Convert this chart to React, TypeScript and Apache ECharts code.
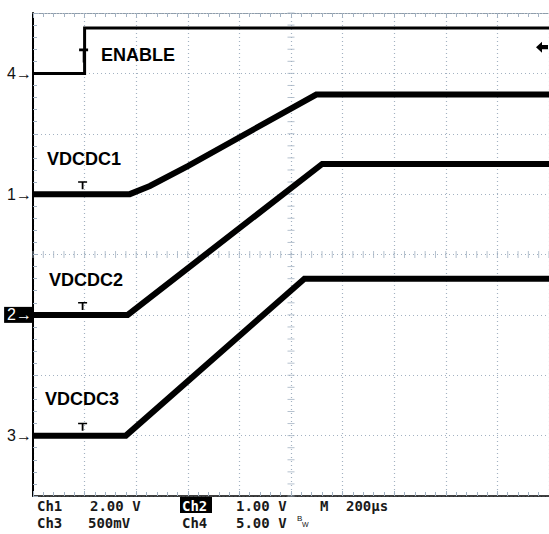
import React, { useEffect, useRef } from "react";
import * as echarts from "echarts";

// Time axis in microseconds (trigger at 0), 200 µs/div
const TIME_MIN = -200;
const TIME_MAX = 1800;
const TIME_DIV = 200;

// Channel settings: volts per division and marker position (divisions)
const CH_NAMES = ["ENABLE", "VDCDC1", "VDCDC2", "VDCDC3"];
const CH_NUM = ["4", "1", "2", "3"];
const CH_SCALE = [5, 2, 1, 0.5];
const CH_OFFSET = [3, 1, -1, -3];

// Waveforms (time µs, volts)
const ENABLE_T = [-200, 0, 0, 1800];
const ENABLE_V = [0, 0, 3.75, 3.75];
const VDCDC1_T = [-200, 175, 253, 400, 898, 1800];
const VDCDC1_V = [0, 0, 0.27, 0.93, 3.3, 3.3];
const VDCDC2_T = [-200, 167, 921, 1800];
const VDCDC2_V = [0, 0, 2.5, 2.5];
const VDCDC3_T = [-200, 160, 852, 1800];
const VDCDC3_V = [0, 0, 1.3, 1.3];

const TRIG_LEVEL_V = 2.17;

// Status bar text
const STATUS_ROW1 = ["Ch1", "2.00 V", "Ch2", "1.00 V", "M", "200µs"];
const STATUS_ROW2 = ["Ch3", "500mV", "Ch4", "5.00 V"];

const GRID_COLOR = "#a3b2c2";
const MONO = "'DejaVu Sans Mono', 'Liberation Mono', monospace";
const SANS = "'Liberation Sans', Arial, sans-serif";

function toDiv(ch: number, t: number[], v: number[]) {
  return t.map((x, i) => [x, CH_OFFSET[ch] + v[i] / CH_SCALE[ch]]);
}

const TSYM = "path://M0,0H10V2H6V10H4V2H0Z";

export default function App() {
  const ref = useRef<HTMLDivElement>(null);
  useEffect(() => {
    if (!ref.current) return;
    const chart = echarts.init(ref.current, null, { renderer: "svg" });

    const traces = [
      { t: ENABLE_T, v: ENABLE_V, w: 3 },
      { t: VDCDC1_T, v: VDCDC1_V, w: 6 },
      { t: VDCDC2_T, v: VDCDC2_V, w: 6 },
      { t: VDCDC3_T, v: VDCDC3_V, w: 6 },
    ];

    const hTicks: number[][] = [];
    for (let t = TIME_MIN; t <= TIME_MAX; t += TIME_DIV / 5) hTicks.push([t, 0]);
    const vTicks: number[][] = [];
    for (let k = -20; k <= 20; k++) vTicks.push([800, k / 5]);

    const markerLabel: Record<number, string> = {};
    CH_OFFSET.forEach((o, i) => (markerLabel[o] = CH_NUM[i]));

    const series: any[] = traces.map((tr, i) => ({
      type: "line",
      name: CH_NAMES[i],
      data: toDiv(i, tr.t, tr.v),
      symbol: "none",
      lineStyle: { color: "#000", width: tr.w, join: "miter" },
      z: 5,
      silent: true,
      markPoint: {
        silent: true,
        label: { show: false },
        itemStyle: { color: "#000" },
        data: [
          {
            coord: [0, CH_OFFSET[i] + tr.v[1] / CH_SCALE[i]],
            symbol: TSYM,
            symbolSize: i === 0 ? [9, 14] : [9, 8],
            symbolOffset: i === 0 ? [-1, -18] : [-2, -9],
          },
          ...(i === 0
            ? [
                {
                  coord: [TIME_MAX, CH_OFFSET[0] + TRIG_LEVEL_V / CH_SCALE[0]],
                  symbol: "path://M0,5L6,0L6,3L12,3L12,7L6,7L6,10Z",
                  symbolSize: [12, 11],
                  symbolOffset: [-7, 0],
                },
              ]
            : []),
        ],
      },
    }));

    series.push({
      type: "scatter",
      data: hTicks,
      symbol: "rect",
      symbolSize: [1, 7],
      itemStyle: { color: GRID_COLOR },
      silent: true,
      z: 1,
    });
    series.push({
      type: "scatter",
      data: vTicks,
      symbol: "rect",
      symbolSize: [7, 1],
      itemStyle: { color: GRID_COLOR },
      silent: true,
      z: 1,
    });

    const statusX1 = [37, 90, 182, 236, 320, 346];
    const statusX2 = [37, 88, 182, 236];
    const statusFont = `bold 14px ${MONO}`;

    const graphic: any[] = [
      { type: "rect", shape: { x: 180, y: 497, width: 32, height: 16 }, style: { fill: "#000" }, z: 10 },
      ...STATUS_ROW1.map((s, i) => ({
        type: "text",
        x: statusX1[i],
        y: 505.5,
        z: 11,
        style: { text: s, font: statusFont, fill: i === 2 ? "#fff" : "#1a1a1a", verticalAlign: "middle" },
      })),
      ...STATUS_ROW2.map((s, i) => ({
        type: "text",
        x: statusX2[i],
        y: 522.5,
        z: 11,
        style: { text: s, font: statusFont, fill: "#1a1a1a", verticalAlign: "middle" },
      })),
      { type: "text", x: 297, y: 518, z: 11, style: { text: "B", font: `8px ${SANS}`, fill: "#111", verticalAlign: "middle" } },
      { type: "text", x: 302, y: 524, z: 11, style: { text: "W", font: `7px ${SANS}`, fill: "#111", verticalAlign: "middle" } },
      { type: "text", x: 101, y: 55, z: 11, style: { text: CH_NAMES[0], font: `bold 18px ${SANS}`, fill: "#000", verticalAlign: "middle" } },
      { type: "text", x: 47, y: 159, z: 11, style: { text: CH_NAMES[1], font: `bold 18px ${SANS}`, fill: "#000", verticalAlign: "middle" } },
      { type: "text", x: 49, y: 280, z: 11, style: { text: CH_NAMES[2], font: `bold 18px ${SANS}`, fill: "#000", verticalAlign: "middle" } },
      { type: "text", x: 45, y: 399, z: 11, style: { text: CH_NAMES[3], font: `bold 18px ${SANS}`, fill: "#000", verticalAlign: "middle" } },
    ];

    const xBase = {
      type: "value",
      min: TIME_MIN,
      max: TIME_MAX,
      interval: TIME_DIV,
      axisLabel: { show: false },
    };

    chart.setOption({
      animation: false,
      backgroundColor: "#fff",
      grid: { left: 33, top: 13, right: -1, bottom: 38, containLabel: false },
      xAxis: [
        {
          ...xBase,
          position: "bottom",
          axisLine: { show: true, onZero: false, lineStyle: { color: "#000", width: 1.5 } },
          axisTick: { show: true, inside: true, length: 5, lineStyle: { color: GRID_COLOR } },
          minorTick: { show: true, splitNumber: 5, length: 4, lineStyle: { color: GRID_COLOR } },
          splitLine: { show: true, lineStyle: { color: GRID_COLOR, type: [1, 3], width: 1.2 } },
        },
        {
          ...xBase,
          position: "top",
          axisLine: { show: true, onZero: false, lineStyle: { color: "#8e9caa", type: [2, 1], width: 1 } },
          axisTick: { show: true, inside: true, length: 5, lineStyle: { color: GRID_COLOR } },
          minorTick: { show: true, splitNumber: 5, length: 4, lineStyle: { color: GRID_COLOR } },
          splitLine: { show: false },
        },
      ],
      yAxis: {
        type: "value",
        min: -4,
        max: 4,
        interval: 1,
        axisLine: { show: true, onZero: false, lineStyle: { color: "#000", width: 2 } },
        axisTick: { show: true, inside: true, length: 5, lineStyle: { color: GRID_COLOR } },
        minorTick: { show: true, splitNumber: 5, length: 4, lineStyle: { color: GRID_COLOR } },
        splitLine: { show: true, lineStyle: { color: GRID_COLOR, type: [1, 3], width: 1.2 } },
        axisLabel: {
          show: true,
          margin: 1,
          fontFamily: SANS,
          fontSize: 16,
          color: "#111",
          formatter: (v: number) => {
            const n = markerLabel[v];
            if (!n) return "";
            return n === "2" ? `{inv|${n}→}` : `${n}→`;
          },
          rich: {
            inv: { color: "#fff", backgroundColor: "#000", fontFamily: SANS, fontSize: 16, padding: [0, 0, 0, 3] },
          },
        },
      },
      series,
      graphic,
    });
    return () => chart.dispose();
  }, []);
  return (
    <div
      ref={ref}
      style={{ position: "fixed", left: 0, top: 0, width: 549, height: 534, background: "#fff" }}
    />
  );
}
